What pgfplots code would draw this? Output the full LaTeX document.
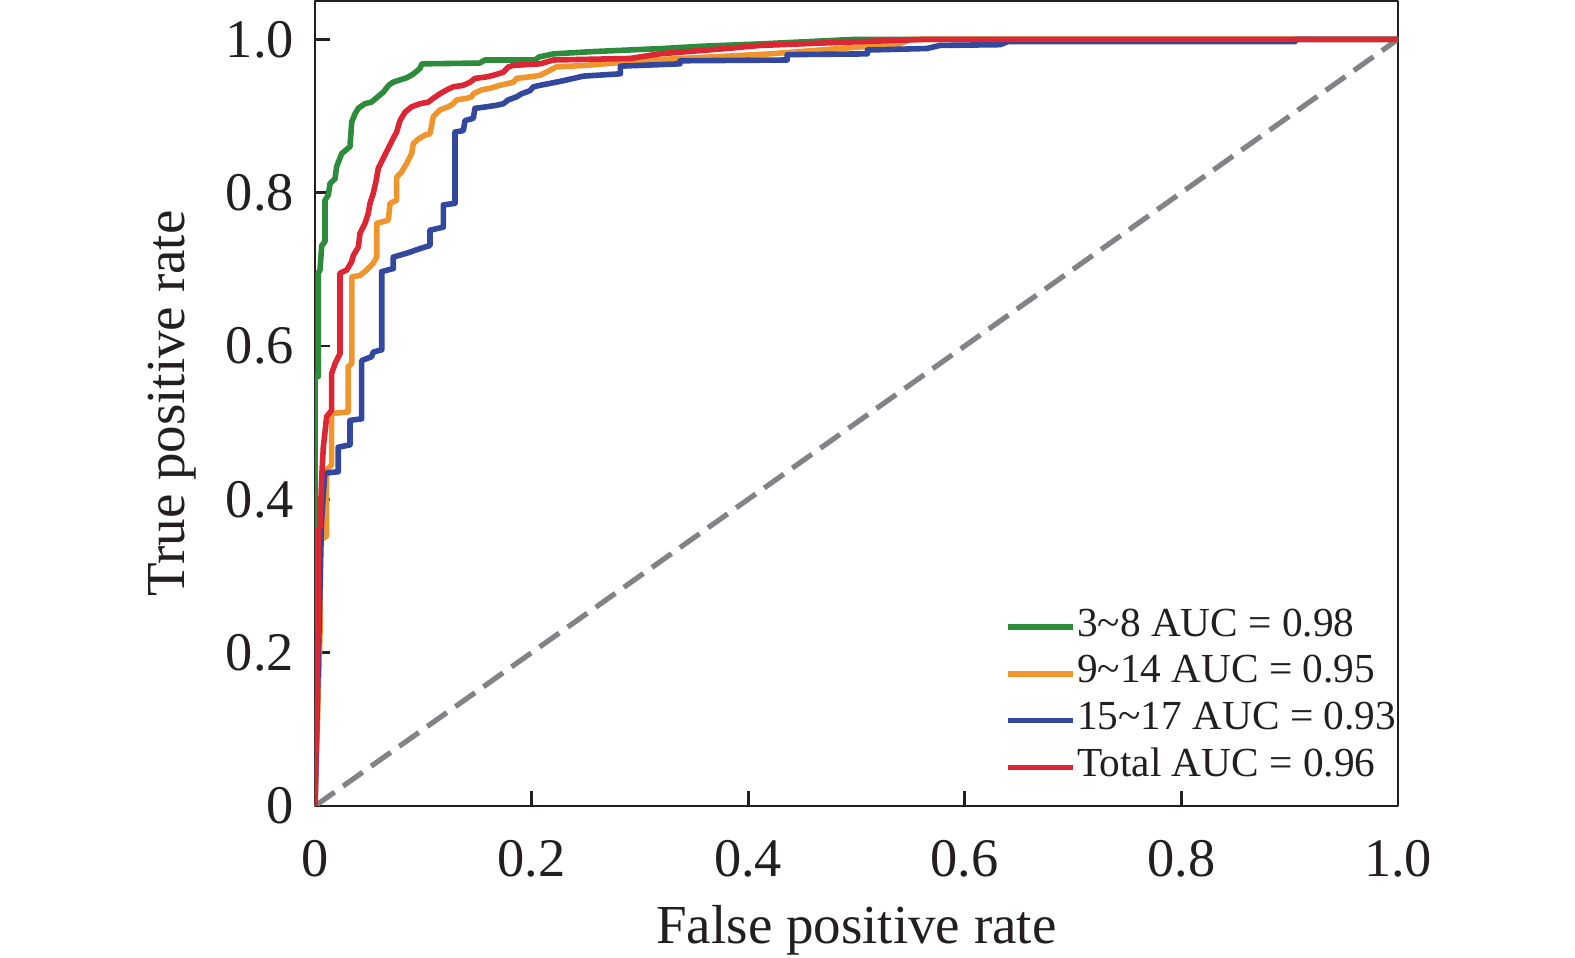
\documentclass[border=0pt]{standalone}
\usepackage{fontspec}
\setmainfont{Liberation Serif}
\usepackage{pgfplots}
\pgfplotsset{compat=1.18}
\usepackage{pgfplotstable}
\definecolor{cgreen}{RGB}{45,140,60}
\definecolor{corange}{RGB}{238,150,45}
\definecolor{cblue}{RGB}{50,72,158}
\definecolor{cred}{RGB}{220,38,52}
\definecolor{cgray}{RGB}{130,130,135}
\definecolor{cframe}{RGB}{35,31,32}

\pgfplotstableread{
x y
0 0
0 0.56
0.003 0.56
0.003 0.695
0.0046 0.699
0.0062 0.731
0.0092 0.736
0.0092 0.790
0.0123 0.797
0.0139 0.812
0.0185 0.818
0.020 0.834
0.0247 0.851
0.0323 0.860
0.0339 0.892
0.037 0.903
0.040 0.910
0.046 0.916
0.052 0.918
0.058 0.925
0.063 0.931
0.068 0.940
0.072 0.944
0.085 0.950
0.091 0.955
0.097 0.962
0.0985 0.968
0.152 0.969
0.157 0.973
0.203 0.973
0.207 0.977
0.22 0.981
0.257 0.984
0.321 0.988
0.358 0.991
0.411 0.994
0.441 0.996
0.485 0.999
0.50 1.0
1.0 1.0
}\tgreen

\pgfplotstableread{
x y
0 0
0.005 0.245
0.005 0.347
0.0108 0.352
0.0108 0.438
0.0154 0.445
0.0154 0.512
0.0307 0.514
0.0307 0.573
0.0340 0.577
0.0340 0.690
0.0416 0.692
0.0477 0.699
0.0538 0.708
0.057 0.716
0.057 0.760
0.0677 0.764
0.0693 0.786
0.0754 0.790
0.0754 0.820
0.080 0.827
0.0847 0.838
0.0893 0.851
0.0908 0.864
0.0954 0.870
0.1016 0.875
0.1062 0.877
0.1092 0.899
0.1154 0.908
0.1231 0.912
0.1277 0.916
0.1308 0.921
0.1401 0.923
0.1447 0.925
0.1462 0.929
0.1539 0.934
0.1616 0.936
0.1708 0.940
0.1831 0.944
0.1862 0.949
0.1985 0.951
0.2078 0.953
0.223 0.964
0.25 0.966
0.31 0.973
0.38 0.978
0.42 0.981
0.485 0.988
0.54 0.994
0.55 1.0
1.0 1.0
}\torange

\pgfplotstableread{
x y
0 0
0.006 0.37
0.009 0.434
0.0215 0.436
0.0215 0.468
0.0323 0.471
0.0323 0.503
0.0431 0.505
0.0431 0.581
0.0523 0.586
0.0538 0.592
0.0616 0.595
0.0616 0.697
0.0723 0.701
0.0723 0.716
0.0847 0.721
0.097 0.727
0.1062 0.731
0.1062 0.751
0.1185 0.755
0.1185 0.784
0.1293 0.786
0.1293 0.879
0.137 0.881
0.1385 0.894
0.1462 0.897
0.1477 0.910
0.1585 0.912
0.1678 0.914
0.1739 0.916
0.1785 0.921
0.1862 0.925
0.1908 0.929
0.1985 0.933
0.2016 0.938
0.2078 0.940
0.226 0.945
0.248 0.952
0.282 0.955
0.282 0.965
0.337 0.968
0.337 0.972
0.436 0.973
0.436 0.980
0.51 0.981
0.51 0.986
0.565 0.988
0.577 0.992
0.6325 0.993
0.64 0.997
0.905 0.997
0.905 1.0
1.0 1.0
}\tblue

\pgfplotstableread{
x y
0 0
0.003 0.243
0.003 0.36
0.0046 0.364
0.0062 0.429
0.0077 0.468
0.0108 0.508
0.0154 0.516
0.0154 0.564
0.0185 0.577
0.0231 0.590
0.0231 0.695
0.0293 0.699
0.0339 0.710
0.0354 0.718
0.040 0.729
0.0416 0.747
0.0462 0.760
0.0492 0.773
0.0508 0.786
0.0538 0.799
0.0565 0.816
0.0585 0.832
0.0631 0.845
0.0677 0.858
0.0723 0.871
0.0754 0.879
0.0785 0.894
0.0831 0.905
0.0893 0.912
0.097 0.916
0.1046 0.918
0.1092 0.923
0.1154 0.929
0.1216 0.934
0.1277 0.938
0.1369 0.940
0.1431 0.944
0.1477 0.949
0.1585 0.951
0.1646 0.953
0.1739 0.957
0.1785 0.964
0.1831 0.966
0.2078 0.968
0.22 0.973
0.291 0.975
0.318 0.981
0.380 0.988
0.411 0.992
0.485 0.996
0.565 1.0
1.0 1.0
}\tred

\pgfplotstableread{
x y
0 0
1 1
}\tdiag

\begin{document}
\begin{tikzpicture}
\begin{axis}[
  scale only axis,
  width=270.75pt, height=201.25pt,
  xmin=0, xmax=1, ymin=0, ymax=1.05,
  xtick={0,0.2,0.4,0.6,0.8,1.0},
  xticklabels={0,0.2,0.4,0.6,0.8,1.0},
  ytick={0,0.2,0.4,0.6,0.8,1.0},
  yticklabels={0,0.2,0.4,0.6,0.8,1.0},
  tick pos=left, tick align=inside,
  major tick length=3.75pt,
  every tick/.style={line width=0.67pt, cframe},
  axis line style={line width=0.67pt, cframe},
  ticklabel style={font=\fontsize{13.6}{16}\selectfont, text=cframe},
  xticklabel style={yshift=-5pt},
  yticklabel style={xshift=-1.75pt},
  xlabel={False positive rate},
  ylabel={True positive rate},
  label style={font=\fontsize{13.75}{16}\selectfont, text=cframe},
  xlabel style={at={(rel axis cs:0.5,0)}, anchor=north, inner sep=0pt, yshift=-24.75pt},
  ylabel style={at={(rel axis cs:-0.1086,0.5)}, anchor=south, inner sep=0pt},
  legend style={draw=none, fill=none, at={(rel axis cs:1,0)}, anchor=south east,
    xshift=0pt, yshift=3.6pt, inner sep=0pt, row sep=0pt,
    font=\fontsize{10.33}{12}\selectfont, text=cframe,
    nodes={inner xsep=0.3pt, inner ysep=1.35pt, text height=6.8pt, text depth=2.2pt}},
  legend cell align=left,
  legend image code/.code={\draw[#1] (0pt,0pt) -- (16.25pt,0pt);},
  line join=round,
]
\addplot[cgray, line width=1.3pt, dash pattern=on 6pt off 2.6pt, forget plot] table[x=x,y=y]{\tdiag};
\addplot[cgreen, line width=1.4pt] table[x=x,y=y]{\tgreen};
\addlegendentry{3\textasciitilde 8 AUC = 0.98}
\addplot[corange, line width=1.4pt] table[x=x,y=y]{\torange};
\addlegendentry{9\textasciitilde 14 AUC = 0.95}
\addplot[cblue, line width=1.4pt] table[x=x,y=y]{\tblue};
\addlegendentry{15\textasciitilde 17 AUC = 0.93}
\addplot[cred, line width=1.4pt] table[x=x,y=y]{\tred};
\addlegendentry{Total AUC = 0.96}
\end{axis}
\pgfresetboundingbox
\path ([shift={(-78.75pt,-38pt)}]current axis.south west) rectangle ([shift={(44.25pt,0.25pt)}]current axis.north east);
\end{tikzpicture}
\end{document}
